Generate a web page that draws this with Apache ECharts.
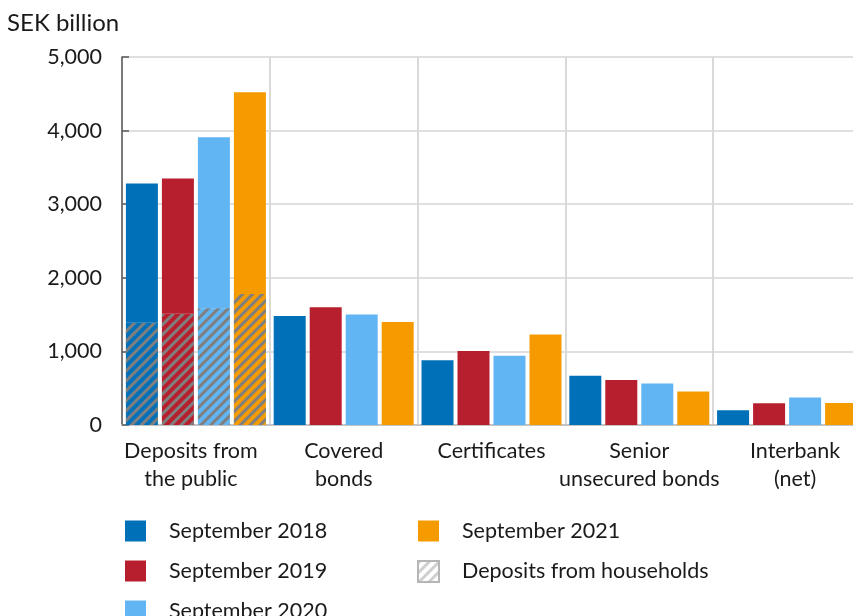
<!DOCTYPE html>
<html>
<head>
<meta charset="utf-8">
<script src="https://cdn.jsdelivr.net/npm/echarts@6/dist/echarts.min.js"></script>
<style>
  html, body { margin: 0; padding: 0; background: #fff; }
  #chart { width: 853px; height: 616px; }
</style>
</head>
<body>
<div id="chart"></div>
<script>
// Bank funding by source, SEK billion
const categories = ['Deposits from\nthe public', 'Covered\nbonds', 'Certificates', 'Senior\nunsecured bonds', 'Interbank\n(net)'];
const years = ['September 2018', 'September 2019', 'September 2020', 'September 2021'];
const colors = ['#0070b8', '#b81f2e', '#62b5f3', '#f59b00'];

const sep2018 = [3280, 1480, 880, 670, 200];
const sep2019 = [3350, 1600, 1005, 610, 295];
const sep2020 = [3910, 1500, 940, 565, 375];
const sep2021 = [4520, 1400, 1230, 455, 300];
// Share of deposits from the public that comes from households
const households = [1390, 1510, 1585, 1780];

const yTicks = [0, 1000, 2000, 3000, 4000, 5000];
const hhName = 'Deposits from households';

const values = [sep2018, sep2019, sep2020, sep2021];
const labelFont = 'Lato, "Noto Sans", sans-serif';

const hatch = (color) => ({
  symbol: 'rect',
  symbolSize: 1,
  color: color,
  dashArrayX: [1, 0],
  dashArrayY: [3, 4],
  rotation: -Math.PI / 4
});

const series = [];
years.forEach((name, i) => {
  const stack = 's' + i;
  // hatched household part at the base of the deposits bar
  series.push({
    name: hhName + ' ' + i,
    type: 'bar',
    stack: stack,
    barWidth: 32,
    barGap: '12.5%',
    data: categories.map((c, k) => (k === 0 ? households[i] : 0)),
    itemStyle: { color: colors[i], decal: hatch('#7f7f7f') },
    emphasis: { disabled: true },
    silent: true
  });
  // remaining part (and the full bars of the other categories)
  series.push({
    name: name,
    type: 'bar',
    stack: stack,
    barWidth: 32,
    barGap: '12.5%',
    data: values[i].map((v, k) => (k === 0 ? v - households[i] : v)),
    itemStyle: { color: colors[i] },
    emphasis: { disabled: true },
    silent: true
  });
});
// legend entry for the hatched household share
series.push({
  name: hhName,
  type: 'bar',
  stack: 's0',
  data: [],
  itemStyle: { color: '#ffffff', borderColor: '#b5b5b5', borderWidth: 1.5, decal: hatch('#cfcfcf') }
});

const legendText = {
  fontFamily: labelFont,
  fontSize: 21.5,
  color: '#1a1a1a',
  lineHeight: 21,
  padding: [0, 0, 0, 18]
};

// small horizontal nudges for the outer category labels
const labelShift = [-5, 0, 0, 0, 8];
const categoryData = categories.map((c, k) => ({
  value: c,
  textStyle: {
    padding: labelShift[k] < 0 ? [0, -2 * labelShift[k], 0, 0] : [0, 0, 0, 2 * labelShift[k]]
  }
}));

const chart = echarts.init(document.getElementById('chart'), null, { renderer: 'canvas' });
chart.setOption({
  animation: false,
  backgroundColor: '#ffffff',
  title: {
    text: 'SEK billion',
    left: 7,
    top: 11,
    padding: 0,
    textStyle: { fontFamily: labelFont, fontSize: 24, fontWeight: 'normal', color: '#1a1a1a' }
  },
  // the plot runs slightly past the right edge of the canvas
  grid: { left: 122, width: 739, top: 57, bottom: 191, outerBoundsMode: 'none', containLabel: false },
  legend: [
    {
      orient: 'vertical',
      left: 125,
      top: 520,
      height: 130,
      padding: 0,
      itemWidth: 21,
      itemHeight: 21,
      itemGap: 18,
      icon: 'rect',
      selectedMode: false,
      data: years.slice(0, 3),
      textStyle: legendText
    },
    {
      orient: 'vertical',
      left: 417,
      top: 520,
      height: 130,
      padding: 0,
      itemWidth: 21,
      itemHeight: 21,
      itemGap: 18,
      icon: 'rect',
      selectedMode: false,
      data: [years[3], hhName],
      textStyle: legendText
    }
  ],
  xAxis: {
    type: 'category',
    data: categoryData,
    axisLine: { lineStyle: { color: '#c4c4c4', width: 2 } },
    axisTick: { show: false },
    axisLabel: {
      interval: 0,
      fontFamily: labelFont,
      fontSize: 21.5,
      color: '#1a1a1a',
      lineHeight: 28,
      margin: 12
    },
    splitLine: { show: true, interval: 0, lineStyle: { color: '#d9d9d9', width: 2 } }
  },
  yAxis: {
    type: 'value',
    min: yTicks[0],
    max: yTicks[yTicks.length - 1],
    interval: 1000,
    axisLine: { show: true, lineStyle: { color: '#595959', width: 1.5 } },
    axisTick: { show: true, inside: true, length: 7, lineStyle: { color: '#595959', width: 1.5 } },
    axisLabel: {
      fontFamily: labelFont,
      fontSize: 21.5,
      color: '#1a1a1a',
      margin: 20,
      formatter: (v) => v.toLocaleString('en-US')
    },
    splitLine: { lineStyle: { color: '#d4d4d4', width: 1.5 } }
  },
  series: series
});
</script>
</body>
</html>
